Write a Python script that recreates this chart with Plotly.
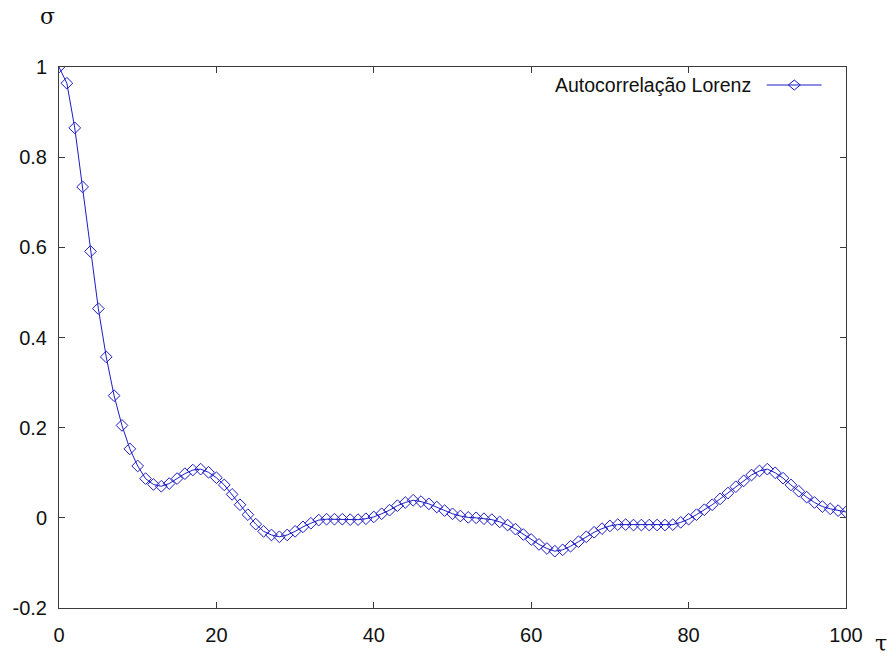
import plotly.graph_objects as go

# Autocorrelation of the Lorenz series, lag tau = 0..100
tau = list(range(101))
sigma = [
    1.000, 0.964, 0.865, 0.734, 0.591, 0.464, 0.357, 0.271, 0.205, 0.153,
    0.115, 0.087, 0.074, 0.070, 0.076, 0.087, 0.098, 0.106, 0.108, 0.101,
    0.089, 0.073, 0.052, 0.029, 0.007, -0.014, -0.030, -0.038, -0.042, -0.038,
    -0.030, -0.020, -0.012, -0.005, -0.003, -0.003, -0.003, -0.004, -0.004, -0.002,
    0.002, 0.009, 0.017, 0.027, 0.034, 0.039, 0.036, 0.031, 0.024, 0.016,
    0.009, 0.004, 0.001, 0.000, -0.002, -0.004, -0.009, -0.016, -0.025, -0.037,
    -0.048, -0.059, -0.068, -0.074, -0.071, -0.063, -0.053, -0.042, -0.032, -0.024,
    -0.018, -0.015, -0.015, -0.016, -0.016, -0.016, -0.016, -0.016, -0.015, -0.010,
    -0.003, 0.007, 0.018, 0.029, 0.042, 0.055, 0.069, 0.082, 0.095, 0.104,
    0.108, 0.100, 0.088, 0.073, 0.059, 0.046, 0.034, 0.025, 0.020, 0.016,
    0.013,
]
series_name = "Autocorrelação Lorenz"

x_ticks = [0, 20, 40, 60, 80, 100]
y_ticks = [-0.2, 0, 0.2, 0.4, 0.6, 0.8, 1]
y_tick_text = ["-0.2", "0", "0.2", "0.4", "0.6", "0.8", "1"]

BLUE = "#1c1cc4"
AXIS = "#3a3a3a"
FONT = "Liberation Sans, Arial, sans-serif"
TXT = "#111111"

fig = go.Figure()
fig.add_trace(go.Scatter(
    x=tau, y=sigma, mode="lines+markers", name=series_name,
    line=dict(color=BLUE, width=1),
    marker=dict(symbol="diamond-open", size=9, color=BLUE, line=dict(width=1, color=BLUE)),
    showlegend=False,
))

axis_common = dict(
    showgrid=False, zeroline=False, showline=True, linecolor=AXIS, linewidth=1,
    mirror="ticks", ticks="inside", ticklen=6, tickcolor=AXIS, tickwidth=1,
    tickfont=dict(family=FONT, size=20, color=TXT), automargin=False,
)
fig.update_xaxes(range=[0, 100], tickvals=x_ticks, ticklabelstandoff=9, **axis_common)
fig.update_yaxes(range=[-0.2, 1], tickvals=y_ticks, ticktext=y_tick_text,
                 ticklabelstandoff=7, **axis_common)

# Legend key: label on the left, line with diamond on the right
LEG_Y = 0.9667
fig.add_annotation(xref="paper", yref="paper", x=0.8818, y=LEG_Y, xanchor="right", yanchor="middle",
                   text=series_name, showarrow=False,
                   font=dict(family=FONT, size=19.5, color=TXT))
fig.add_shape(type="line", xref="paper", yref="paper", x0=0.8993, x1=0.9691, y0=LEG_Y, y1=LEG_Y,
              line=dict(color=BLUE, width=1))
fig.add_shape(type="path", xref="paper", yref="paper", xsizemode="pixel", ysizemode="pixel",
              xanchor=0.9343, yanchor=LEG_Y,
              path="M-6,0 L0,5 L6,0 L0,-5 Z", line=dict(color=BLUE, width=1))

# Axis symbols
fig.add_annotation(xref="paper", yref="paper", x=-0.014, y=1.093, xanchor="center", yanchor="middle",
                   text="σ", showarrow=False,
                   font=dict(family="DejaVu Serif, serif", size=22, color=TXT))
fig.add_annotation(xref="paper", yref="paper", x=1.045, y=-0.066, xanchor="center", yanchor="middle",
                   text="τ", showarrow=False,
                   font=dict(family="DejaVu Serif, serif", size=22, color=TXT))

fig.update_layout(
    width=896, height=658,
    margin=dict(l=59, r=50, t=67, b=50),
    paper_bgcolor="white", plot_bgcolor="white",
)

fig.write_html("out.html")
